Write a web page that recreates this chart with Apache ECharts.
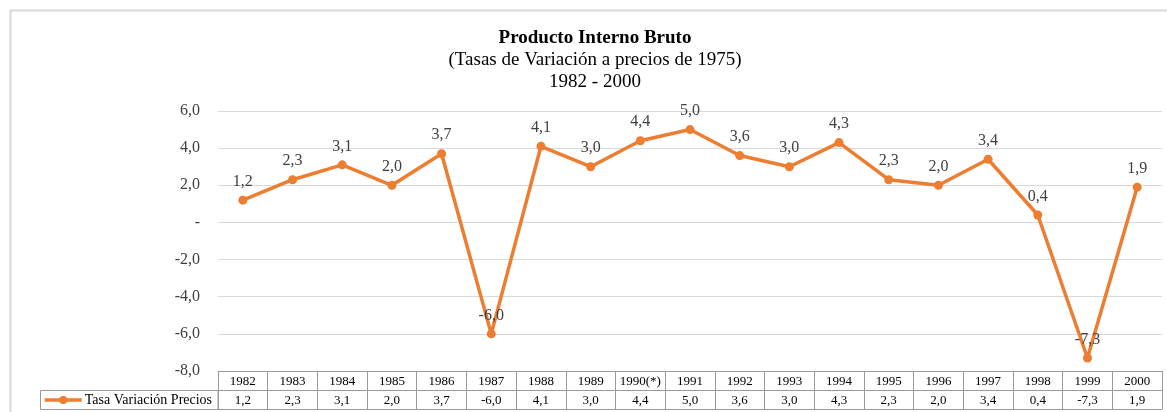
<!DOCTYPE html>
<html>
<head>
<meta charset="utf-8">
<script src="https://cdn.jsdelivr.net/npm/echarts@6/dist/echarts.min.js"></script>
<style>
  html, body { margin: 0; padding: 0; background: #fff; }
  #chart { width: 1167px; height: 412px; }
</style>
</head>
<body>
<div id="chart"></div>
<script>
// años y tasas de variación del PIB
const years = ['1982','1983','1984','1985','1986','1987','1988','1989','1990(*)','1991',
  '1992','1993','1994','1995','1996','1997','1998','1999','2000'];
const tasas = [1.2, 2.3, 3.1, 2.0, 3.7, -6.0, 4.1, 3.0, 4.4, 5.0,
  3.6, 3.0, 4.3, 2.3, 2.0, 3.4, 0.4, -7.3, 1.9];
const yTicks = { min: -8, max: 6, interval: 2 };

const serif = 'Liberation Serif, Times New Roman, serif';
const tableColor = '#9a9a9a';

// formato con coma decimal
function fmt(v) {
  return Number(v).toFixed(1).replace('.', ',');
}

const chart = echarts.init(document.getElementById('chart'));

const option = {
  animation: false,
  title: {
    text: 'Producto Interno Bruto',
    subtext: '(Tasas de Variación a precios de 1975)\n1982 - 2000',
    left: 595,
    textAlign: 'center',
    top: 27,
    itemGap: 0,
    padding: 0,
    textStyle: { fontFamily: serif, fontSize: 19, fontWeight: 'bold', color: '#000', lineHeight: 22 },
    subtextStyle: { fontFamily: serif, fontSize: 19, color: '#000', lineHeight: 22 }
  },
  legend: {
    data: ['Tasa Variación Precios'],
    left: 43,
    top: 393,
    padding: 0,
    itemWidth: 37,
    itemHeight: 10,
    itemGap: 4,
    lineStyle: { width: 3.5 },
    textStyle: { fontFamily: serif, fontSize: 14, color: '#000', padding: [0, 0, 0, -2] }
  },
  grid: { left: 218, right: 5, top: 111, bottom: 41 },
  xAxis: [
    {
      type: 'category',
      data: years,
      position: 'bottom',
      axisLine: { show: true, onZero: false, lineStyle: { color: tableColor, width: 1 } },
      axisTick: { show: true, interval: 0, length: 38, lineStyle: { color: tableColor } },
      axisLabel: { interval: 0, margin: 4, fontFamily: serif, fontSize: 13, color: '#000' }
    },
    {
      type: 'category',
      data: tasas.map(fmt),
      position: 'bottom',
      offset: 19,
      axisLine: { show: true, onZero: false, lineStyle: { color: tableColor, width: 1 } },
      axisTick: { show: false },
      axisLabel: { interval: 0, margin: 4, fontFamily: serif, fontSize: 13, color: '#000' }
    },
    {
      type: 'category',
      data: years,
      position: 'bottom',
      offset: 38,
      axisLine: { show: true, onZero: false, lineStyle: { color: tableColor, width: 1 } },
      axisTick: { show: false },
      axisLabel: { show: false }
    }
  ],
  yAxis: {
    type: 'value',
    min: yTicks.min,
    max: yTicks.max,
    interval: yTicks.interval,
    axisLine: { show: false },
    axisTick: { show: false },
    splitLine: { lineStyle: { color: '#d9d9d9', width: 1 } },
    axisLabel: {
      margin: 18,
      fontFamily: serif,
      fontSize: 16,
      color: '#404040',
      formatter: function (v) { return v === 0 ? '-' : fmt(v); }
    }
  },
  series: [
    {
      name: 'Tasa Variación Precios',
      type: 'line',
      data: tasas,
      xAxisIndex: 0,
      color: '#ED7D31',
      symbol: 'circle',
      symbolSize: 9,
      lineStyle: { width: 3.5, color: '#ED7D31' },
      itemStyle: { color: '#ED7D31' },
      label: {
        show: true,
        position: 'top',
        distance: 6,
        fontFamily: serif,
        fontSize: 16,
        color: '#404040',
        formatter: function (p) { return fmt(p.value); }
      }
    }
  ],
  graphic: [
    {
      type: 'rect',
      shape: { x: 10.5, y: 10.5, width: 1300, height: 500 },
      style: { fill: 'none', stroke: '#d9d9d9', lineWidth: 2 },
      silent: true,
      z: -10
    },
    {
      type: 'rect',
      shape: { x: 40.5, y: 390.5, width: 177.5, height: 19 },
      style: { fill: 'none', stroke: tableColor, lineWidth: 1 },
      silent: true
    }
  ]
};

chart.setOption(option);
</script>
</body>
</html>
